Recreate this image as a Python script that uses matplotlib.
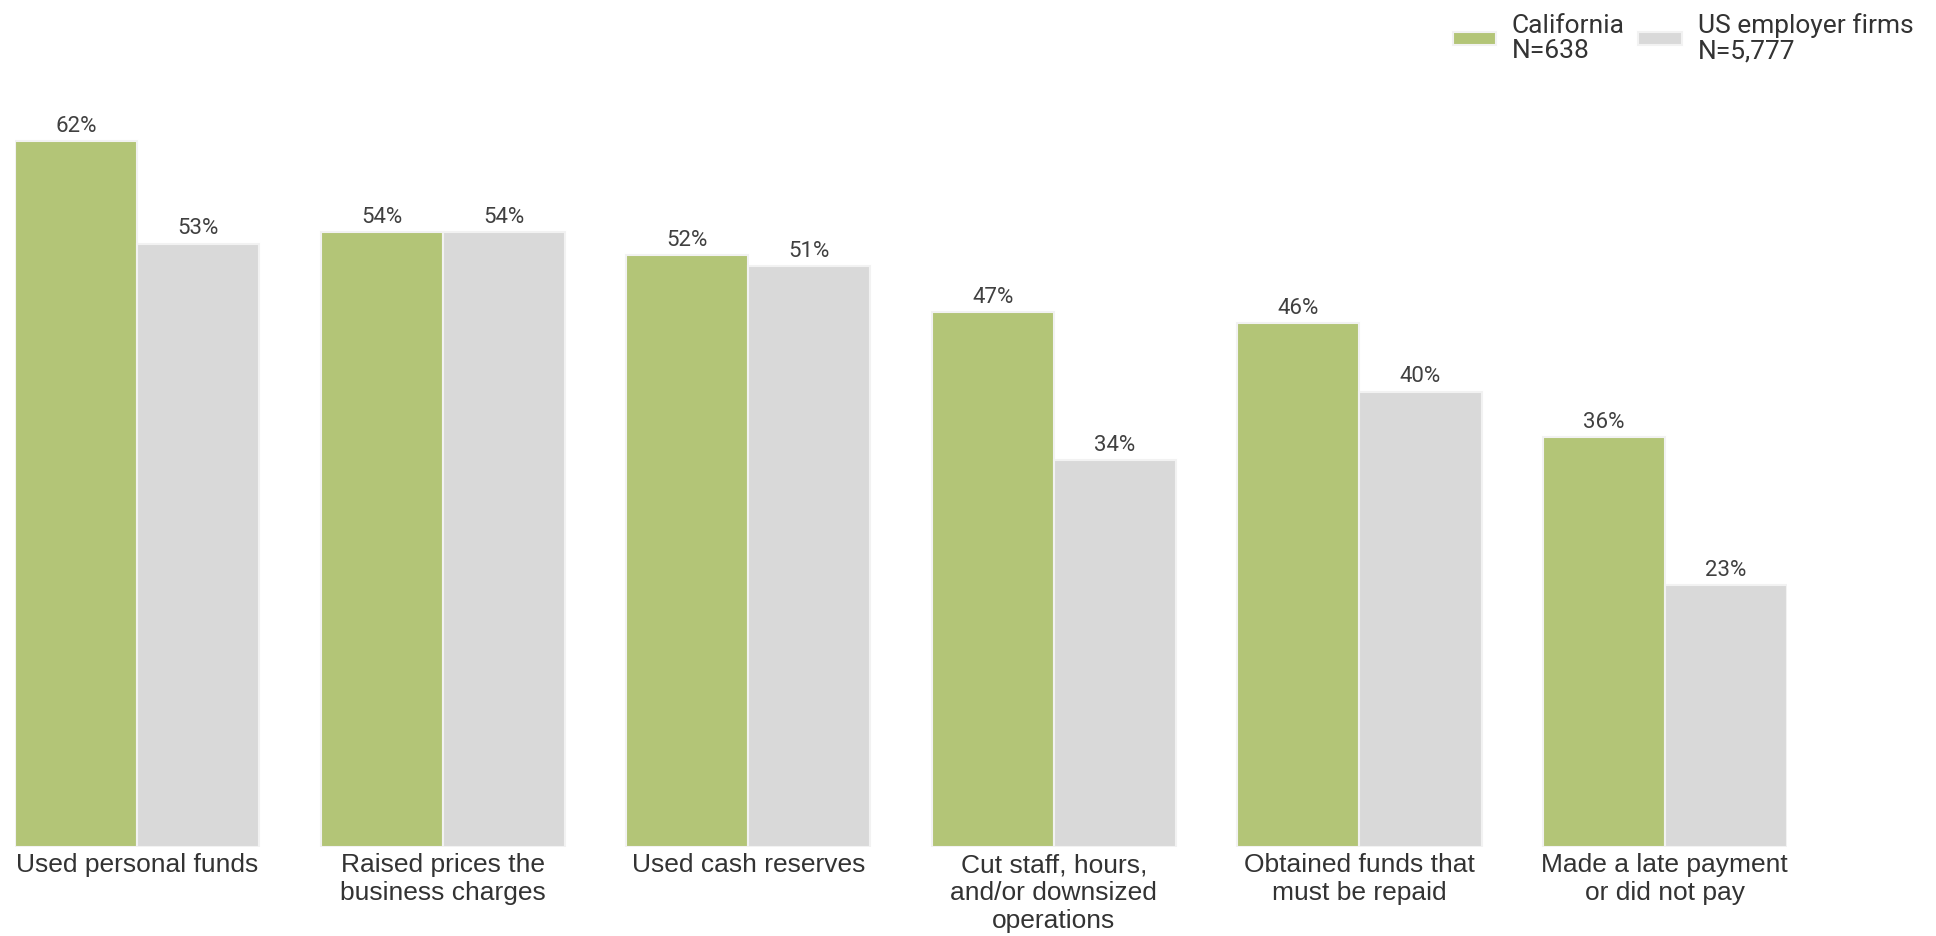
import matplotlib
matplotlib.use('Agg')
from matplotlib import pyplot as plt
import numpy as np

categories = [
    'Used personal funds',
    'Raised prices the\nbusiness charges',
    'Used cash reserves',
    'Cut staff, hours,\nand/or downsized\noperations',
    'Obtained funds that\nmust be repaid',
    'Made a late payment\nor did not pay',
]
california = [62, 54, 52, 47, 46, 36]
us_firms = [53, 54, 51, 34, 40, 23]
series_labels = ['California\nN=638', 'US employer firms\nN=5,777']

green = '#b3c577'
gray = '#d9d9d9'

fig = plt.figure(figsize=(19.36, 9.36), dpi=100)
ax = fig.add_axes([0.00775, 0.0951, 0.9153, 0.7906])

x = np.arange(len(categories))
w = 0.4
b1 = ax.bar(x - w / 2, california, w, color=green, edgecolor='#f2f2f2',
            linewidth=1.5, label=series_labels[0])
b2 = ax.bar(x + w / 2, us_firms, w, color=gray, edgecolor='#f2f2f2',
            linewidth=1.5, label=series_labels[1])

for bars in (b1, b2):
    ax.bar_label(bars, labels=[f'{v}%' for v in bars.datavalues],
                 padding=3, fontsize=16, color='#404040', family='Roboto')

ax.set_xlim(-0.4, len(categories) - 0.6)
ax.set_ylim(0, 65)
ax.set_yticks([])
ax.set_xticks(x)
ax.set_xticklabels(categories, fontsize=19, family='Liberation Sans',
                   color='#333333', linespacing=1.2)
ax.tick_params(axis='x', length=0, pad=4.5)
for s in ax.spines.values():
    s.set_visible(False)

leg = ax.legend(loc='upper right', bbox_to_anchor=(0.995, 1.0),
                bbox_transform=fig.transFigure, ncol=2, frameon=False,
                prop={'family': 'Roboto', 'size': 19},
                handlelength=1.65, handleheight=0.4, handletextpad=0.6,
                columnspacing=0.5, borderaxespad=0.1)
for t in leg.get_texts():
    t.set_color('#333333')
    t.set_linespacing(1.05)

fig.savefig('out.png', dpi=100, facecolor='white')
